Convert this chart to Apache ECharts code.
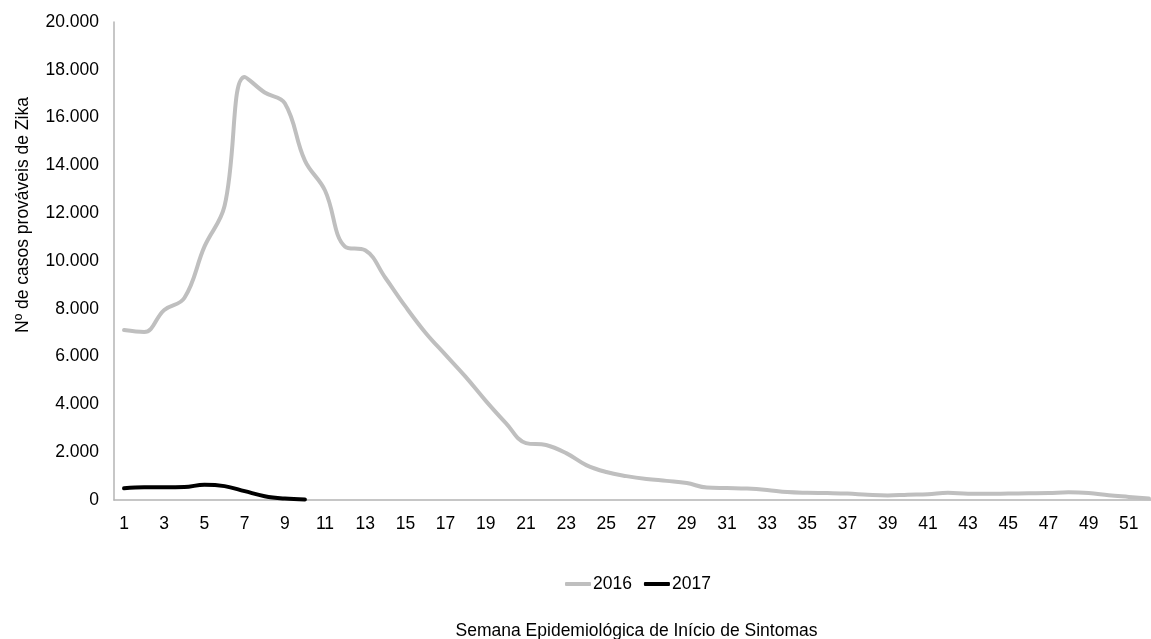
<!DOCTYPE html>
<html>
<head>
<meta charset="utf-8">
<script src="https://cdn.jsdelivr.net/npm/echarts@6/dist/echarts.min.js"></script>
<style>
  html, body { margin: 0; padding: 0; background: #fff; overflow: hidden; }
  #chart { width: 1151px; height: 639px; }
</style>
</head>
<body>
<div id="chart"></div>
<script>
// semanas epidemiológicas 1..52
var semanas = []
for (var i = 1; i <= 52; i++) semanas.push(String(i))

var casos2016 = [
  7110, 7030, 7950, 8450, 10600, 12300, 17700, 17050, 16600, 14200,
  12950, 10600, 10450, 9300, 8100, 7000, 6070, 5150, 4150, 3220,
  2380, 2300, 1960, 1460, 1170, 1000, 880, 800, 710, 520,
  500, 480, 420, 330, 300, 290, 270, 220, 190, 220,
  240, 300, 260, 260, 270, 280, 290, 320, 290, 200,
  130, 60
]
var casos2017 = [490, 530, 530, 540, 640, 580, 370, 160, 60, 20]

var chart = echarts.init(document.getElementById('chart'))
var font = 'Liberation Sans, Arial, sans-serif'
var fs = 17.5

var option = {
  animation: false,
  textStyle: { fontFamily: font },
  grid: { left: 114, top: 22, bottom: 139, width: 1045, outerBoundsMode: 'none', containLabel: false },
  legend: {
    data: ['2016', '2017'],
    left: 560,
    top: 570,
    icon: 'roundRect',
    itemWidth: 26,
    itemHeight: 4,
    itemGap: 12,
    textStyle: { fontSize: fs, color: '#000', fontFamily: font, padding: [0, 0, 0, -3] }
  },
  xAxis: {
    type: 'category',
    data: semanas,
    boundaryGap: true,
    axisLine: { lineStyle: { color: '#b4b4b4', width: 1.5 } },
    axisTick: { show: false },
    axisLabel: { interval: 1, fontSize: fs, color: '#000', margin: 15 },
    name: 'Semana Epidemiológica de Início de Sintomas',
    nameLocation: 'middle',
    nameGap: 122,
    nameTextStyle: { fontSize: fs, color: '#000' }
  },
  yAxis: {
    type: 'value',
    min: 0,
    max: 20000,
    interval: 2000,
    splitLine: { show: false },
    axisLine: { show: true, lineStyle: { color: '#b4b4b4', width: 1.5 } },
    axisTick: { show: false },
    axisLabel: {
      fontSize: fs,
      color: '#000',
      margin: 15,
      formatter: function (v) { return v.toLocaleString('pt-BR') }
    },
    name: 'Nº de casos prováveis de Zika',
    nameLocation: 'middle',
    nameGap: 82,
    nameRotate: 90,
    nameTextStyle: { fontSize: fs, color: '#000', padding: [0, 0, 0, 92] }
  },
  series: [
    {
      name: '2016',
      type: 'line',
      data: casos2016,
      smooth: 0.4,
      symbol: 'none',
      lineStyle: { color: '#bfbfbf', width: 4, cap: 'round' },
      itemStyle: { color: '#bfbfbf' }
    },
    {
      name: '2017',
      type: 'line',
      data: casos2017,
      smooth: 0.4,
      symbol: 'none',
      lineStyle: { color: '#000', width: 4, cap: 'round' },
      itemStyle: { color: '#000' }
    }
  ]
}

chart.setOption(option)
</script>
</body>
</html>
